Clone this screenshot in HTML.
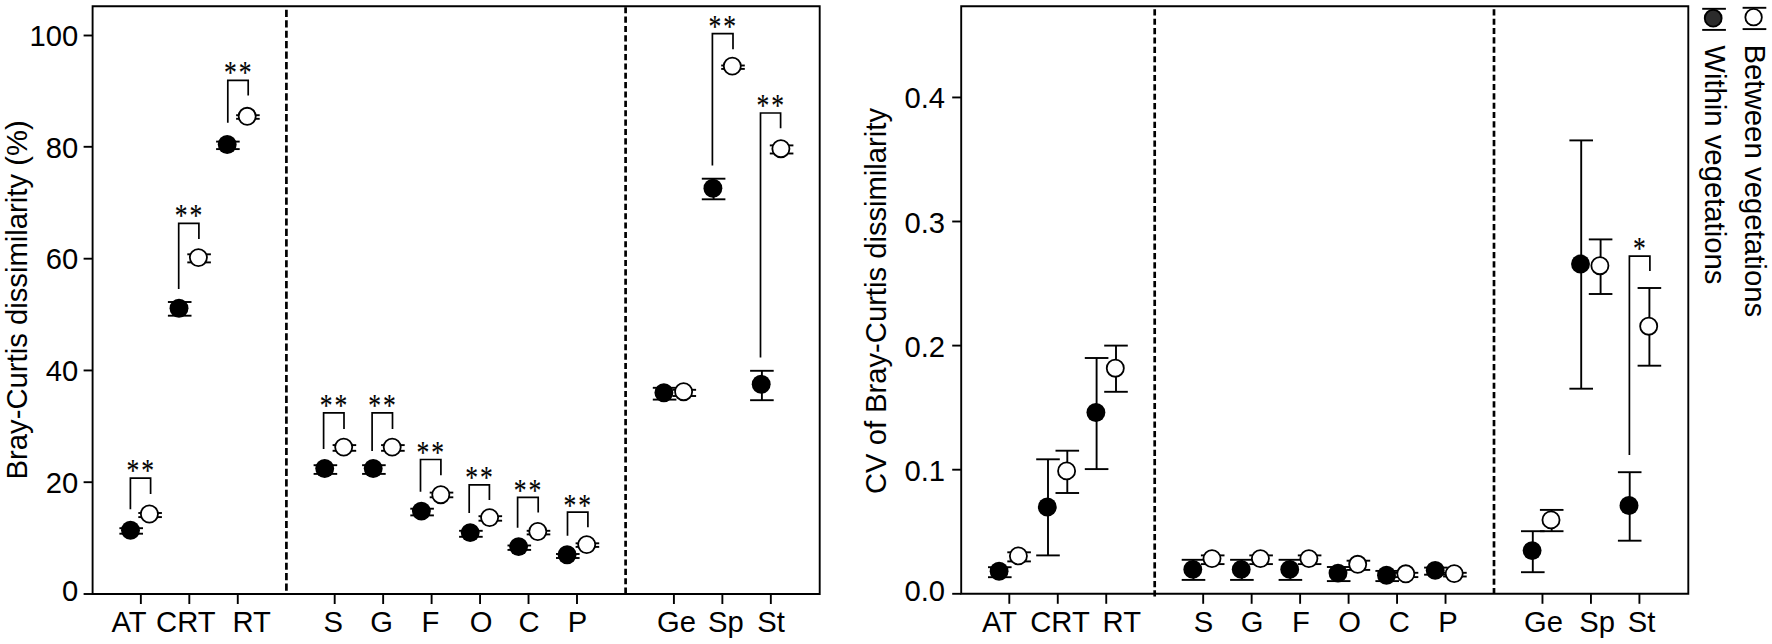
<!DOCTYPE html>
<html><head><meta charset="utf-8"><title>Bray-Curtis dissimilarity</title>
<style>
html,body{margin:0;padding:0;background:#fff;}
body{width:1772px;height:644px;overflow:hidden;}
svg{display:block;}
svg text{font-family:"Liberation Sans",sans-serif;fill:#000;}
svg text.st{font-family:"Liberation Serif",serif;}
</style></head><body>
<svg width="1772" height="644" viewBox="0 0 1772 644">
<rect x="0" y="0" width="1772" height="644" fill="#fff"/>
<path d="M92.60,6.30 H819.70 V594.00 H92.60 Z" fill="none" stroke="#000" stroke-width="1.9" stroke-linejoin="miter"/>
<line x1="140.85" y1="594.00" x2="140.85" y2="604.00" stroke="#000" stroke-width="1.9" />
<line x1="189.31" y1="594.00" x2="189.31" y2="604.00" stroke="#000" stroke-width="1.9" />
<line x1="237.77" y1="594.00" x2="237.77" y2="604.00" stroke="#000" stroke-width="1.9" />
<line x1="334.69" y1="594.00" x2="334.69" y2="604.00" stroke="#000" stroke-width="1.9" />
<line x1="383.15" y1="594.00" x2="383.15" y2="604.00" stroke="#000" stroke-width="1.9" />
<line x1="431.61" y1="594.00" x2="431.61" y2="604.00" stroke="#000" stroke-width="1.9" />
<line x1="480.07" y1="594.00" x2="480.07" y2="604.00" stroke="#000" stroke-width="1.9" />
<line x1="528.53" y1="594.00" x2="528.53" y2="604.00" stroke="#000" stroke-width="1.9" />
<line x1="576.99" y1="594.00" x2="576.99" y2="604.00" stroke="#000" stroke-width="1.9" />
<line x1="673.91" y1="594.00" x2="673.91" y2="604.00" stroke="#000" stroke-width="1.9" />
<line x1="722.37" y1="594.00" x2="722.37" y2="604.00" stroke="#000" stroke-width="1.9" />
<line x1="770.83" y1="594.00" x2="770.83" y2="604.00" stroke="#000" stroke-width="1.9" />
<line x1="83.60" y1="594.00" x2="92.60" y2="594.00" stroke="#000" stroke-width="1.9" />
<line x1="83.60" y1="482.20" x2="92.60" y2="482.20" stroke="#000" stroke-width="1.9" />
<line x1="83.60" y1="370.45" x2="92.60" y2="370.45" stroke="#000" stroke-width="1.9" />
<line x1="83.60" y1="258.70" x2="92.60" y2="258.70" stroke="#000" stroke-width="1.9" />
<line x1="83.60" y1="146.80" x2="92.60" y2="146.80" stroke="#000" stroke-width="1.9" />
<line x1="83.60" y1="35.50" x2="92.60" y2="35.50" stroke="#000" stroke-width="1.9" />
<line x1="286.40" y1="9.8" x2="286.40" y2="592" stroke="#000" stroke-width="2.7" stroke-dasharray="7.2 3.231"/>
<line x1="625.60" y1="7.24" x2="625.60" y2="594" stroke="#000" stroke-width="2.7" stroke-dasharray="6.1 3.26"/>
<path d="M961.20,6.30 H1688.30 V593.80 H961.20 Z" fill="none" stroke="#000" stroke-width="1.9" stroke-linejoin="miter"/>
<line x1="1009.30" y1="593.80" x2="1009.30" y2="603.80" stroke="#000" stroke-width="1.9" />
<line x1="1057.77" y1="593.80" x2="1057.77" y2="603.80" stroke="#000" stroke-width="1.9" />
<line x1="1106.24" y1="593.80" x2="1106.24" y2="603.80" stroke="#000" stroke-width="1.9" />
<line x1="1203.18" y1="593.80" x2="1203.18" y2="603.80" stroke="#000" stroke-width="1.9" />
<line x1="1251.65" y1="593.80" x2="1251.65" y2="603.80" stroke="#000" stroke-width="1.9" />
<line x1="1300.12" y1="593.80" x2="1300.12" y2="603.80" stroke="#000" stroke-width="1.9" />
<line x1="1348.59" y1="593.80" x2="1348.59" y2="603.80" stroke="#000" stroke-width="1.9" />
<line x1="1397.06" y1="593.80" x2="1397.06" y2="603.80" stroke="#000" stroke-width="1.9" />
<line x1="1445.53" y1="593.80" x2="1445.53" y2="603.80" stroke="#000" stroke-width="1.9" />
<line x1="1542.47" y1="593.80" x2="1542.47" y2="603.80" stroke="#000" stroke-width="1.9" />
<line x1="1590.94" y1="593.80" x2="1590.94" y2="603.80" stroke="#000" stroke-width="1.9" />
<line x1="1639.41" y1="593.80" x2="1639.41" y2="603.80" stroke="#000" stroke-width="1.9" />
<line x1="952.20" y1="593.80" x2="961.20" y2="593.80" stroke="#000" stroke-width="1.9" />
<line x1="952.20" y1="469.70" x2="961.20" y2="469.70" stroke="#000" stroke-width="1.9" />
<line x1="952.20" y1="345.60" x2="961.20" y2="345.60" stroke="#000" stroke-width="1.9" />
<line x1="952.20" y1="221.50" x2="961.20" y2="221.50" stroke="#000" stroke-width="1.9" />
<line x1="952.20" y1="97.45" x2="961.20" y2="97.45" stroke="#000" stroke-width="1.9" />
<line x1="1154.70" y1="9.3" x2="1154.70" y2="596.4" stroke="#000" stroke-width="2.7" stroke-dasharray="6.2 3.171"/>
<line x1="1494.00" y1="9.3" x2="1494.00" y2="594" stroke="#000" stroke-width="2.7" stroke-dasharray="6.15 3.184"/>
<text x="78.20" y="46.40" text-anchor="end" font-size="29.2" >100</text>
<text x="78.20" y="158.20" text-anchor="end" font-size="29.2" >80</text>
<text x="78.20" y="269.20" text-anchor="end" font-size="29.2" >60</text>
<text x="78.20" y="381.30" text-anchor="end" font-size="29.2" >40</text>
<text x="78.20" y="493.20" text-anchor="end" font-size="29.2" >20</text>
<text x="78.20" y="601.20" text-anchor="end" font-size="29.2" >0</text>
<text x="945.00" y="108.30" text-anchor="end" font-size="29.2" >0.4</text>
<text x="945.00" y="232.60" text-anchor="end" font-size="29.2" >0.3</text>
<text x="945.00" y="356.70" text-anchor="end" font-size="29.2" >0.2</text>
<text x="945.00" y="480.90" text-anchor="end" font-size="29.2" >0.1</text>
<text x="945.00" y="600.90" text-anchor="end" font-size="29.2" >0.0</text>
<text x="129.00" y="631.80" text-anchor="middle" font-size="29.2" >AT</text>
<text x="185.80" y="631.80" text-anchor="middle" font-size="29.2" >CRT</text>
<text x="251.70" y="631.80" text-anchor="middle" font-size="29.2" >RT</text>
<text x="333.20" y="631.80" text-anchor="middle" font-size="29.2" >S</text>
<text x="381.70" y="631.80" text-anchor="middle" font-size="29.2" >G</text>
<text x="430.50" y="631.80" text-anchor="middle" font-size="29.2" >F</text>
<text x="481.10" y="631.80" text-anchor="middle" font-size="29.2" >O</text>
<text x="529.00" y="631.80" text-anchor="middle" font-size="29.2" >C</text>
<text x="577.50" y="631.80" text-anchor="middle" font-size="29.2" >P</text>
<text x="676.50" y="631.80" text-anchor="middle" font-size="29.2" >Ge</text>
<text x="725.90" y="631.80" text-anchor="middle" font-size="29.2" >Sp</text>
<text x="771.00" y="631.80" text-anchor="middle" font-size="29.2" >St</text>
<text x="999.50" y="631.80" text-anchor="middle" font-size="29.2" >AT</text>
<text x="1060.00" y="631.80" text-anchor="middle" font-size="29.2" >CRT</text>
<text x="1121.80" y="631.80" text-anchor="middle" font-size="29.2" >RT</text>
<text x="1203.60" y="631.80" text-anchor="middle" font-size="29.2" >S</text>
<text x="1252.10" y="631.80" text-anchor="middle" font-size="29.2" >G</text>
<text x="1301.00" y="631.80" text-anchor="middle" font-size="29.2" >F</text>
<text x="1349.60" y="631.80" text-anchor="middle" font-size="29.2" >O</text>
<text x="1399.40" y="631.80" text-anchor="middle" font-size="29.2" >C</text>
<text x="1447.90" y="631.80" text-anchor="middle" font-size="29.2" >P</text>
<text x="1543.50" y="631.80" text-anchor="middle" font-size="29.2" >Ge</text>
<text x="1597.10" y="631.80" text-anchor="middle" font-size="29.2" >Sp</text>
<text x="1641.50" y="631.80" text-anchor="middle" font-size="29.2" >St</text>
<text transform="translate(27.2,479.5) rotate(-90)" font-size="29.26">Bray-Curtis dissimilarity (%)</text>
<text transform="translate(886.2,494.0) rotate(-90)" font-size="29.2">CV of Bray-Curtis dissimilarity</text>
<line x1="131.20" y1="528.20" x2="131.20" y2="533.70" stroke="#000" stroke-width="1.9" />
<line x1="119.40" y1="528.20" x2="143.00" y2="528.20" stroke="#000" stroke-width="1.9" />
<line x1="119.40" y1="533.70" x2="143.00" y2="533.70" stroke="#000" stroke-width="1.9" />
<circle cx="130.50" cy="530.30" r="9.45" fill="#000"/>
<line x1="179.70" y1="302.00" x2="179.70" y2="315.70" stroke="#000" stroke-width="1.9" />
<line x1="167.90" y1="302.00" x2="191.50" y2="302.00" stroke="#000" stroke-width="1.9" />
<line x1="167.90" y1="315.70" x2="191.50" y2="315.70" stroke="#000" stroke-width="1.9" />
<circle cx="179.00" cy="308.20" r="9.45" fill="#000"/>
<line x1="227.90" y1="141.60" x2="227.90" y2="149.10" stroke="#000" stroke-width="1.9" />
<line x1="216.10" y1="141.60" x2="239.70" y2="141.60" stroke="#000" stroke-width="1.9" />
<line x1="216.10" y1="149.10" x2="239.70" y2="149.10" stroke="#000" stroke-width="1.9" />
<circle cx="227.20" cy="144.50" r="9.45" fill="#000"/>
<line x1="325.40" y1="465.20" x2="325.40" y2="473.90" stroke="#000" stroke-width="1.9" />
<line x1="313.60" y1="465.20" x2="337.20" y2="465.20" stroke="#000" stroke-width="1.9" />
<line x1="313.60" y1="473.90" x2="337.20" y2="473.90" stroke="#000" stroke-width="1.9" />
<circle cx="324.70" cy="468.50" r="9.45" fill="#000"/>
<line x1="373.90" y1="465.20" x2="373.90" y2="473.90" stroke="#000" stroke-width="1.9" />
<line x1="362.10" y1="465.20" x2="385.70" y2="465.20" stroke="#000" stroke-width="1.9" />
<line x1="362.10" y1="473.90" x2="385.70" y2="473.90" stroke="#000" stroke-width="1.9" />
<circle cx="373.20" cy="468.50" r="9.45" fill="#000"/>
<line x1="422.10" y1="508.70" x2="422.10" y2="515.40" stroke="#000" stroke-width="1.9" />
<line x1="410.30" y1="508.70" x2="433.90" y2="508.70" stroke="#000" stroke-width="1.9" />
<line x1="410.30" y1="515.40" x2="433.90" y2="515.40" stroke="#000" stroke-width="1.9" />
<circle cx="421.40" cy="511.10" r="9.45" fill="#000"/>
<line x1="470.90" y1="530.80" x2="470.90" y2="536.80" stroke="#000" stroke-width="1.9" />
<line x1="459.10" y1="530.80" x2="482.70" y2="530.80" stroke="#000" stroke-width="1.9" />
<line x1="459.10" y1="536.80" x2="482.70" y2="536.80" stroke="#000" stroke-width="1.9" />
<circle cx="470.20" cy="532.60" r="9.45" fill="#000"/>
<line x1="519.30" y1="545.50" x2="519.30" y2="549.90" stroke="#000" stroke-width="1.9" />
<line x1="507.50" y1="545.50" x2="531.10" y2="545.50" stroke="#000" stroke-width="1.9" />
<line x1="507.50" y1="549.90" x2="531.10" y2="549.90" stroke="#000" stroke-width="1.9" />
<circle cx="518.60" cy="546.60" r="9.45" fill="#000"/>
<line x1="567.80" y1="554.00" x2="567.80" y2="558.00" stroke="#000" stroke-width="1.9" />
<line x1="556.00" y1="554.00" x2="579.60" y2="554.00" stroke="#000" stroke-width="1.9" />
<line x1="556.00" y1="558.00" x2="579.60" y2="558.00" stroke="#000" stroke-width="1.9" />
<circle cx="567.10" cy="554.70" r="9.45" fill="#000"/>
<line x1="664.60" y1="387.80" x2="664.60" y2="399.60" stroke="#000" stroke-width="1.9" />
<line x1="652.80" y1="387.80" x2="676.40" y2="387.80" stroke="#000" stroke-width="1.9" />
<line x1="652.80" y1="399.60" x2="676.40" y2="399.60" stroke="#000" stroke-width="1.9" />
<circle cx="663.90" cy="392.70" r="9.45" fill="#000"/>
<line x1="713.60" y1="178.70" x2="713.60" y2="199.30" stroke="#000" stroke-width="1.9" />
<line x1="701.80" y1="178.70" x2="725.40" y2="178.70" stroke="#000" stroke-width="1.9" />
<line x1="701.80" y1="199.30" x2="725.40" y2="199.30" stroke="#000" stroke-width="1.9" />
<circle cx="712.90" cy="188.30" r="9.45" fill="#000"/>
<line x1="761.90" y1="370.80" x2="761.90" y2="400.20" stroke="#000" stroke-width="1.9" />
<line x1="750.10" y1="370.80" x2="773.70" y2="370.80" stroke="#000" stroke-width="1.9" />
<line x1="750.10" y1="400.20" x2="773.70" y2="400.20" stroke="#000" stroke-width="1.9" />
<circle cx="761.20" cy="384.30" r="9.45" fill="#000"/>
<line x1="150.10" y1="513.00" x2="150.10" y2="517.10" stroke="#000" stroke-width="1.9" />
<line x1="138.30" y1="513.00" x2="161.90" y2="513.00" stroke="#000" stroke-width="1.9" />
<line x1="138.30" y1="517.10" x2="161.90" y2="517.10" stroke="#000" stroke-width="1.9" />
<circle cx="149.40" cy="514.00" r="8.55" fill="#fff" stroke="#000" stroke-width="1.8"/>
<line x1="199.10" y1="254.30" x2="199.10" y2="262.40" stroke="#000" stroke-width="1.9" />
<line x1="187.30" y1="254.30" x2="210.90" y2="254.30" stroke="#000" stroke-width="1.9" />
<line x1="187.30" y1="262.40" x2="210.90" y2="262.40" stroke="#000" stroke-width="1.9" />
<circle cx="198.40" cy="257.60" r="8.55" fill="#fff" stroke="#000" stroke-width="1.8"/>
<line x1="247.90" y1="115.20" x2="247.90" y2="118.80" stroke="#000" stroke-width="1.9" />
<line x1="236.10" y1="115.20" x2="259.70" y2="115.20" stroke="#000" stroke-width="1.9" />
<line x1="236.10" y1="118.80" x2="259.70" y2="118.80" stroke="#000" stroke-width="1.9" />
<circle cx="247.20" cy="116.30" r="8.55" fill="#fff" stroke="#000" stroke-width="1.8"/>
<line x1="344.40" y1="445.10" x2="344.40" y2="450.80" stroke="#000" stroke-width="1.9" />
<line x1="332.60" y1="445.10" x2="356.20" y2="445.10" stroke="#000" stroke-width="1.9" />
<line x1="332.60" y1="450.80" x2="356.20" y2="450.80" stroke="#000" stroke-width="1.9" />
<circle cx="343.70" cy="447.10" r="8.55" fill="#fff" stroke="#000" stroke-width="1.8"/>
<line x1="392.90" y1="445.10" x2="392.90" y2="450.80" stroke="#000" stroke-width="1.9" />
<line x1="381.10" y1="445.10" x2="404.70" y2="445.10" stroke="#000" stroke-width="1.9" />
<line x1="381.10" y1="450.80" x2="404.70" y2="450.80" stroke="#000" stroke-width="1.9" />
<circle cx="392.20" cy="447.10" r="8.55" fill="#fff" stroke="#000" stroke-width="1.8"/>
<line x1="441.50" y1="492.60" x2="441.50" y2="497.30" stroke="#000" stroke-width="1.9" />
<line x1="429.70" y1="492.60" x2="453.30" y2="492.60" stroke="#000" stroke-width="1.9" />
<line x1="429.70" y1="497.30" x2="453.30" y2="497.30" stroke="#000" stroke-width="1.9" />
<circle cx="440.80" cy="494.70" r="8.55" fill="#fff" stroke="#000" stroke-width="1.8"/>
<line x1="490.30" y1="516.20" x2="490.30" y2="520.70" stroke="#000" stroke-width="1.9" />
<line x1="478.50" y1="516.20" x2="502.10" y2="516.20" stroke="#000" stroke-width="1.9" />
<line x1="478.50" y1="520.70" x2="502.10" y2="520.70" stroke="#000" stroke-width="1.9" />
<circle cx="489.60" cy="517.60" r="8.55" fill="#fff" stroke="#000" stroke-width="1.8"/>
<line x1="538.50" y1="530.80" x2="538.50" y2="534.40" stroke="#000" stroke-width="1.9" />
<line x1="526.70" y1="530.80" x2="550.30" y2="530.80" stroke="#000" stroke-width="1.9" />
<line x1="526.70" y1="534.40" x2="550.30" y2="534.40" stroke="#000" stroke-width="1.9" />
<circle cx="537.80" cy="531.50" r="8.55" fill="#fff" stroke="#000" stroke-width="1.8"/>
<line x1="587.40" y1="543.30" x2="587.40" y2="546.90" stroke="#000" stroke-width="1.9" />
<line x1="575.60" y1="543.30" x2="599.20" y2="543.30" stroke="#000" stroke-width="1.9" />
<line x1="575.60" y1="546.90" x2="599.20" y2="546.90" stroke="#000" stroke-width="1.9" />
<circle cx="586.70" cy="544.60" r="8.55" fill="#fff" stroke="#000" stroke-width="1.8"/>
<line x1="684.30" y1="389.80" x2="684.30" y2="396.00" stroke="#000" stroke-width="1.9" />
<line x1="672.50" y1="389.80" x2="696.10" y2="389.80" stroke="#000" stroke-width="1.9" />
<line x1="672.50" y1="396.00" x2="696.10" y2="396.00" stroke="#000" stroke-width="1.9" />
<circle cx="683.60" cy="391.70" r="8.55" fill="#fff" stroke="#000" stroke-width="1.8"/>
<line x1="733.00" y1="65.50" x2="733.00" y2="68.90" stroke="#000" stroke-width="1.9" />
<line x1="721.20" y1="65.50" x2="744.80" y2="65.50" stroke="#000" stroke-width="1.9" />
<line x1="721.20" y1="68.90" x2="744.80" y2="68.90" stroke="#000" stroke-width="1.9" />
<circle cx="732.30" cy="66.10" r="8.55" fill="#fff" stroke="#000" stroke-width="1.8"/>
<line x1="781.60" y1="145.40" x2="781.60" y2="153.50" stroke="#000" stroke-width="1.9" />
<line x1="769.80" y1="145.40" x2="793.40" y2="145.40" stroke="#000" stroke-width="1.9" />
<line x1="769.80" y1="153.50" x2="793.40" y2="153.50" stroke="#000" stroke-width="1.9" />
<circle cx="780.90" cy="148.70" r="8.55" fill="#fff" stroke="#000" stroke-width="1.8"/>
<polyline points="130.40,509.30 130.40,478.20 150.60,478.20 150.60,494.00" fill="none" stroke="#000" stroke-width="1.7" stroke-linejoin="miter"/>
<text class="st" transform="translate(126.42,481.27) scale(0.875,1.095)" font-size="29.2" letter-spacing="2.257" stroke="#000" stroke-width="0.15">**</text>
<polyline points="178.70,288.90 178.70,223.30 198.90,223.30 198.90,238.90" fill="none" stroke="#000" stroke-width="1.7" stroke-linejoin="miter"/>
<text class="st" transform="translate(174.72,226.37) scale(0.875,1.095)" font-size="29.2" letter-spacing="2.257" stroke="#000" stroke-width="0.15">**</text>
<polyline points="227.80,122.80 227.80,80.40 248.20,80.40 248.20,95.60" fill="none" stroke="#000" stroke-width="1.7" stroke-linejoin="miter"/>
<text class="st" transform="translate(223.92,83.47) scale(0.875,1.095)" font-size="29.2" letter-spacing="2.257" stroke="#000" stroke-width="0.15">**</text>
<polyline points="323.60,449.10 323.60,412.80 344.00,412.80 344.00,429.00" fill="none" stroke="#000" stroke-width="1.7" stroke-linejoin="miter"/>
<text class="st" transform="translate(319.72,415.87) scale(0.875,1.095)" font-size="29.2" letter-spacing="2.257" stroke="#000" stroke-width="0.15">**</text>
<polyline points="372.10,451.00 372.10,412.80 392.50,412.80 392.50,429.00" fill="none" stroke="#000" stroke-width="1.7" stroke-linejoin="miter"/>
<text class="st" transform="translate(368.22,415.87) scale(0.875,1.095)" font-size="29.2" letter-spacing="2.257" stroke="#000" stroke-width="0.15">**</text>
<polyline points="420.50,491.80 420.50,459.50 440.90,459.50 440.90,475.20" fill="none" stroke="#000" stroke-width="1.7" stroke-linejoin="miter"/>
<text class="st" transform="translate(416.62,462.57) scale(0.875,1.095)" font-size="29.2" letter-spacing="2.257" stroke="#000" stroke-width="0.15">**</text>
<polyline points="469.20,513.00 469.20,484.90 489.40,484.90 489.40,499.90" fill="none" stroke="#000" stroke-width="1.7" stroke-linejoin="miter"/>
<text class="st" transform="translate(465.22,487.97) scale(0.875,1.095)" font-size="29.2" letter-spacing="2.257" stroke="#000" stroke-width="0.15">**</text>
<polyline points="517.60,527.70 517.60,497.40 538.20,497.40 538.20,512.60" fill="none" stroke="#000" stroke-width="1.7" stroke-linejoin="miter"/>
<text class="st" transform="translate(513.82,501.17) scale(0.875,1.095)" font-size="29.2" letter-spacing="2.257" stroke="#000" stroke-width="0.15">**</text>
<polyline points="567.50,535.80 567.50,512.20 587.90,512.20 587.90,527.30" fill="none" stroke="#000" stroke-width="1.7" stroke-linejoin="miter"/>
<text class="st" transform="translate(563.62,515.57) scale(0.875,1.095)" font-size="29.2" letter-spacing="2.257" stroke="#000" stroke-width="0.15">**</text>
<polyline points="712.40,165.60 712.40,33.60 733.00,33.60 733.00,49.30" fill="none" stroke="#000" stroke-width="1.7" stroke-linejoin="miter"/>
<text class="st" transform="translate(708.62,36.67) scale(0.875,1.095)" font-size="29.2" letter-spacing="2.257" stroke="#000" stroke-width="0.15">**</text>
<polyline points="760.50,357.60 760.50,113.00 780.60,113.00 780.60,128.30" fill="none" stroke="#000" stroke-width="1.7" stroke-linejoin="miter"/>
<text class="st" transform="translate(756.47,116.07) scale(0.875,1.095)" font-size="29.2" letter-spacing="2.257" stroke="#000" stroke-width="0.15">**</text>
<line x1="999.80" y1="567.20" x2="999.80" y2="577.20" stroke="#000" stroke-width="1.9" />
<line x1="988.00" y1="567.20" x2="1011.60" y2="567.20" stroke="#000" stroke-width="1.9" />
<line x1="988.00" y1="577.20" x2="1011.60" y2="577.20" stroke="#000" stroke-width="1.9" />
<circle cx="999.10" cy="571.20" r="9.45" fill="#000"/>
<line x1="1048.00" y1="459.30" x2="1048.00" y2="555.40" stroke="#000" stroke-width="1.9" />
<line x1="1036.20" y1="459.30" x2="1059.80" y2="459.30" stroke="#000" stroke-width="1.9" />
<line x1="1036.20" y1="555.40" x2="1059.80" y2="555.40" stroke="#000" stroke-width="1.9" />
<circle cx="1047.30" cy="507.00" r="9.45" fill="#000"/>
<line x1="1096.60" y1="358.00" x2="1096.60" y2="469.10" stroke="#000" stroke-width="1.9" />
<line x1="1084.80" y1="358.00" x2="1108.40" y2="358.00" stroke="#000" stroke-width="1.9" />
<line x1="1084.80" y1="469.10" x2="1108.40" y2="469.10" stroke="#000" stroke-width="1.9" />
<circle cx="1095.90" cy="412.50" r="9.45" fill="#000"/>
<line x1="1193.50" y1="559.80" x2="1193.50" y2="579.90" stroke="#000" stroke-width="1.9" />
<line x1="1181.70" y1="559.80" x2="1205.30" y2="559.80" stroke="#000" stroke-width="1.9" />
<line x1="1181.70" y1="579.90" x2="1205.30" y2="579.90" stroke="#000" stroke-width="1.9" />
<circle cx="1192.80" cy="569.40" r="9.45" fill="#000"/>
<line x1="1241.90" y1="559.80" x2="1241.90" y2="579.90" stroke="#000" stroke-width="1.9" />
<line x1="1230.10" y1="559.80" x2="1253.70" y2="559.80" stroke="#000" stroke-width="1.9" />
<line x1="1230.10" y1="579.90" x2="1253.70" y2="579.90" stroke="#000" stroke-width="1.9" />
<circle cx="1241.20" cy="569.40" r="9.45" fill="#000"/>
<line x1="1290.40" y1="559.80" x2="1290.40" y2="579.90" stroke="#000" stroke-width="1.9" />
<line x1="1278.60" y1="559.80" x2="1302.20" y2="559.80" stroke="#000" stroke-width="1.9" />
<line x1="1278.60" y1="579.90" x2="1302.20" y2="579.90" stroke="#000" stroke-width="1.9" />
<circle cx="1289.70" cy="569.40" r="9.45" fill="#000"/>
<line x1="1338.70" y1="567.00" x2="1338.70" y2="581.10" stroke="#000" stroke-width="1.9" />
<line x1="1326.90" y1="567.00" x2="1350.50" y2="567.00" stroke="#000" stroke-width="1.9" />
<line x1="1326.90" y1="581.10" x2="1350.50" y2="581.10" stroke="#000" stroke-width="1.9" />
<circle cx="1338.00" cy="573.10" r="9.45" fill="#000"/>
<line x1="1387.20" y1="570.90" x2="1387.20" y2="581.10" stroke="#000" stroke-width="1.9" />
<line x1="1375.40" y1="570.90" x2="1399.00" y2="570.90" stroke="#000" stroke-width="1.9" />
<line x1="1375.40" y1="581.10" x2="1399.00" y2="581.10" stroke="#000" stroke-width="1.9" />
<circle cx="1386.50" cy="575.30" r="9.45" fill="#000"/>
<line x1="1435.90" y1="567.60" x2="1435.90" y2="574.70" stroke="#000" stroke-width="1.9" />
<line x1="1424.10" y1="567.60" x2="1447.70" y2="567.60" stroke="#000" stroke-width="1.9" />
<line x1="1424.10" y1="574.70" x2="1447.70" y2="574.70" stroke="#000" stroke-width="1.9" />
<circle cx="1435.20" cy="570.40" r="9.45" fill="#000"/>
<line x1="1532.80" y1="531.20" x2="1532.80" y2="572.20" stroke="#000" stroke-width="1.9" />
<line x1="1521.00" y1="531.20" x2="1544.60" y2="531.20" stroke="#000" stroke-width="1.9" />
<line x1="1521.00" y1="572.20" x2="1544.60" y2="572.20" stroke="#000" stroke-width="1.9" />
<circle cx="1532.10" cy="550.60" r="9.45" fill="#000"/>
<line x1="1581.20" y1="140.40" x2="1581.20" y2="388.70" stroke="#000" stroke-width="1.9" />
<line x1="1569.40" y1="140.40" x2="1593.00" y2="140.40" stroke="#000" stroke-width="1.9" />
<line x1="1569.40" y1="388.70" x2="1593.00" y2="388.70" stroke="#000" stroke-width="1.9" />
<circle cx="1580.50" cy="264.00" r="9.45" fill="#000"/>
<line x1="1629.70" y1="472.20" x2="1629.70" y2="540.70" stroke="#000" stroke-width="1.9" />
<line x1="1617.90" y1="472.20" x2="1641.50" y2="472.20" stroke="#000" stroke-width="1.9" />
<line x1="1617.90" y1="540.70" x2="1641.50" y2="540.70" stroke="#000" stroke-width="1.9" />
<circle cx="1629.00" cy="505.50" r="9.45" fill="#000"/>
<line x1="1019.10" y1="552.30" x2="1019.10" y2="561.40" stroke="#000" stroke-width="1.9" />
<line x1="1007.30" y1="552.30" x2="1030.90" y2="552.30" stroke="#000" stroke-width="1.9" />
<line x1="1007.30" y1="561.40" x2="1030.90" y2="561.40" stroke="#000" stroke-width="1.9" />
<circle cx="1018.40" cy="555.90" r="8.55" fill="#fff" stroke="#000" stroke-width="1.8"/>
<line x1="1067.30" y1="450.70" x2="1067.30" y2="493.00" stroke="#000" stroke-width="1.9" />
<line x1="1055.50" y1="450.70" x2="1079.10" y2="450.70" stroke="#000" stroke-width="1.9" />
<line x1="1055.50" y1="493.00" x2="1079.10" y2="493.00" stroke="#000" stroke-width="1.9" />
<circle cx="1066.60" cy="470.90" r="8.55" fill="#fff" stroke="#000" stroke-width="1.8"/>
<line x1="1116.00" y1="345.60" x2="1116.00" y2="391.80" stroke="#000" stroke-width="1.9" />
<line x1="1104.20" y1="345.60" x2="1127.80" y2="345.60" stroke="#000" stroke-width="1.9" />
<line x1="1104.20" y1="391.80" x2="1127.80" y2="391.80" stroke="#000" stroke-width="1.9" />
<circle cx="1115.30" cy="368.20" r="8.55" fill="#fff" stroke="#000" stroke-width="1.8"/>
<line x1="1212.70" y1="555.40" x2="1212.70" y2="564.10" stroke="#000" stroke-width="1.9" />
<line x1="1200.90" y1="555.40" x2="1224.50" y2="555.40" stroke="#000" stroke-width="1.9" />
<line x1="1200.90" y1="564.10" x2="1224.50" y2="564.10" stroke="#000" stroke-width="1.9" />
<circle cx="1212.00" cy="558.60" r="8.55" fill="#fff" stroke="#000" stroke-width="1.8"/>
<line x1="1261.10" y1="555.40" x2="1261.10" y2="564.10" stroke="#000" stroke-width="1.9" />
<line x1="1249.30" y1="555.40" x2="1272.90" y2="555.40" stroke="#000" stroke-width="1.9" />
<line x1="1249.30" y1="564.10" x2="1272.90" y2="564.10" stroke="#000" stroke-width="1.9" />
<circle cx="1260.40" cy="558.60" r="8.55" fill="#fff" stroke="#000" stroke-width="1.8"/>
<line x1="1309.60" y1="555.40" x2="1309.60" y2="564.10" stroke="#000" stroke-width="1.9" />
<line x1="1297.80" y1="555.40" x2="1321.40" y2="555.40" stroke="#000" stroke-width="1.9" />
<line x1="1297.80" y1="564.10" x2="1321.40" y2="564.10" stroke="#000" stroke-width="1.9" />
<circle cx="1308.90" cy="558.60" r="8.55" fill="#fff" stroke="#000" stroke-width="1.8"/>
<line x1="1358.40" y1="560.70" x2="1358.40" y2="569.90" stroke="#000" stroke-width="1.9" />
<line x1="1346.60" y1="560.70" x2="1370.20" y2="560.70" stroke="#000" stroke-width="1.9" />
<line x1="1346.60" y1="569.90" x2="1370.20" y2="569.90" stroke="#000" stroke-width="1.9" />
<circle cx="1357.70" cy="564.30" r="8.55" fill="#fff" stroke="#000" stroke-width="1.8"/>
<line x1="1406.50" y1="572.80" x2="1406.50" y2="577.10" stroke="#000" stroke-width="1.9" />
<line x1="1394.70" y1="572.80" x2="1418.30" y2="572.80" stroke="#000" stroke-width="1.9" />
<line x1="1394.70" y1="577.10" x2="1418.30" y2="577.10" stroke="#000" stroke-width="1.9" />
<circle cx="1405.80" cy="573.80" r="8.55" fill="#fff" stroke="#000" stroke-width="1.8"/>
<line x1="1454.90" y1="572.80" x2="1454.90" y2="576.50" stroke="#000" stroke-width="1.9" />
<line x1="1443.10" y1="572.80" x2="1466.70" y2="572.80" stroke="#000" stroke-width="1.9" />
<line x1="1443.10" y1="576.50" x2="1466.70" y2="576.50" stroke="#000" stroke-width="1.9" />
<circle cx="1454.20" cy="573.60" r="8.55" fill="#fff" stroke="#000" stroke-width="1.8"/>
<line x1="1551.70" y1="509.90" x2="1551.70" y2="531.20" stroke="#000" stroke-width="1.9" />
<line x1="1539.90" y1="509.90" x2="1563.50" y2="509.90" stroke="#000" stroke-width="1.9" />
<line x1="1539.90" y1="531.20" x2="1563.50" y2="531.20" stroke="#000" stroke-width="1.9" />
<circle cx="1551.00" cy="519.90" r="8.55" fill="#fff" stroke="#000" stroke-width="1.8"/>
<line x1="1600.60" y1="239.40" x2="1600.60" y2="294.00" stroke="#000" stroke-width="1.9" />
<line x1="1588.80" y1="239.40" x2="1612.40" y2="239.40" stroke="#000" stroke-width="1.9" />
<line x1="1588.80" y1="294.00" x2="1612.40" y2="294.00" stroke="#000" stroke-width="1.9" />
<circle cx="1599.90" cy="265.70" r="8.55" fill="#fff" stroke="#000" stroke-width="1.8"/>
<line x1="1649.40" y1="288.00" x2="1649.40" y2="365.70" stroke="#000" stroke-width="1.9" />
<line x1="1637.60" y1="288.00" x2="1661.20" y2="288.00" stroke="#000" stroke-width="1.9" />
<line x1="1637.60" y1="365.70" x2="1661.20" y2="365.70" stroke="#000" stroke-width="1.9" />
<circle cx="1648.70" cy="326.20" r="8.55" fill="#fff" stroke="#000" stroke-width="1.8"/>
<polyline points="1629.40,454.90 1629.40,256.20 1649.90,256.20 1649.90,271.00" fill="none" stroke="#000" stroke-width="1.7" stroke-linejoin="miter"/>
<text class="st" transform="translate(1632.90,259.17) scale(0.875,1.095)" font-size="29.2" letter-spacing="2.257" stroke="#000" stroke-width="0.15">*</text>
<line x1="1702.20" y1="8.80" x2="1725.90" y2="8.80" stroke="#000" stroke-width="1.9" />
<line x1="1702.20" y1="29.90" x2="1725.90" y2="29.90" stroke="#000" stroke-width="1.9" />
<circle cx="1713.2" cy="18.2" r="8.4" fill="#2b2b2b" stroke="#000" stroke-width="1.9"/>
<line x1="1742.60" y1="7.80" x2="1766.30" y2="7.80" stroke="#000" stroke-width="1.9" />
<line x1="1742.60" y1="29.10" x2="1766.30" y2="29.10" stroke="#000" stroke-width="1.9" />
<circle cx="1753.6" cy="17.2" r="8.25" fill="#fff" stroke="#000" stroke-width="1.8"/>
<text transform="translate(1704.8,45.3) rotate(90)" font-size="29.27">Within vegetations</text>
<text transform="translate(1745.0,44.4) rotate(90)" font-size="29.4">Between vegetations</text>
</svg>
</body></html>
